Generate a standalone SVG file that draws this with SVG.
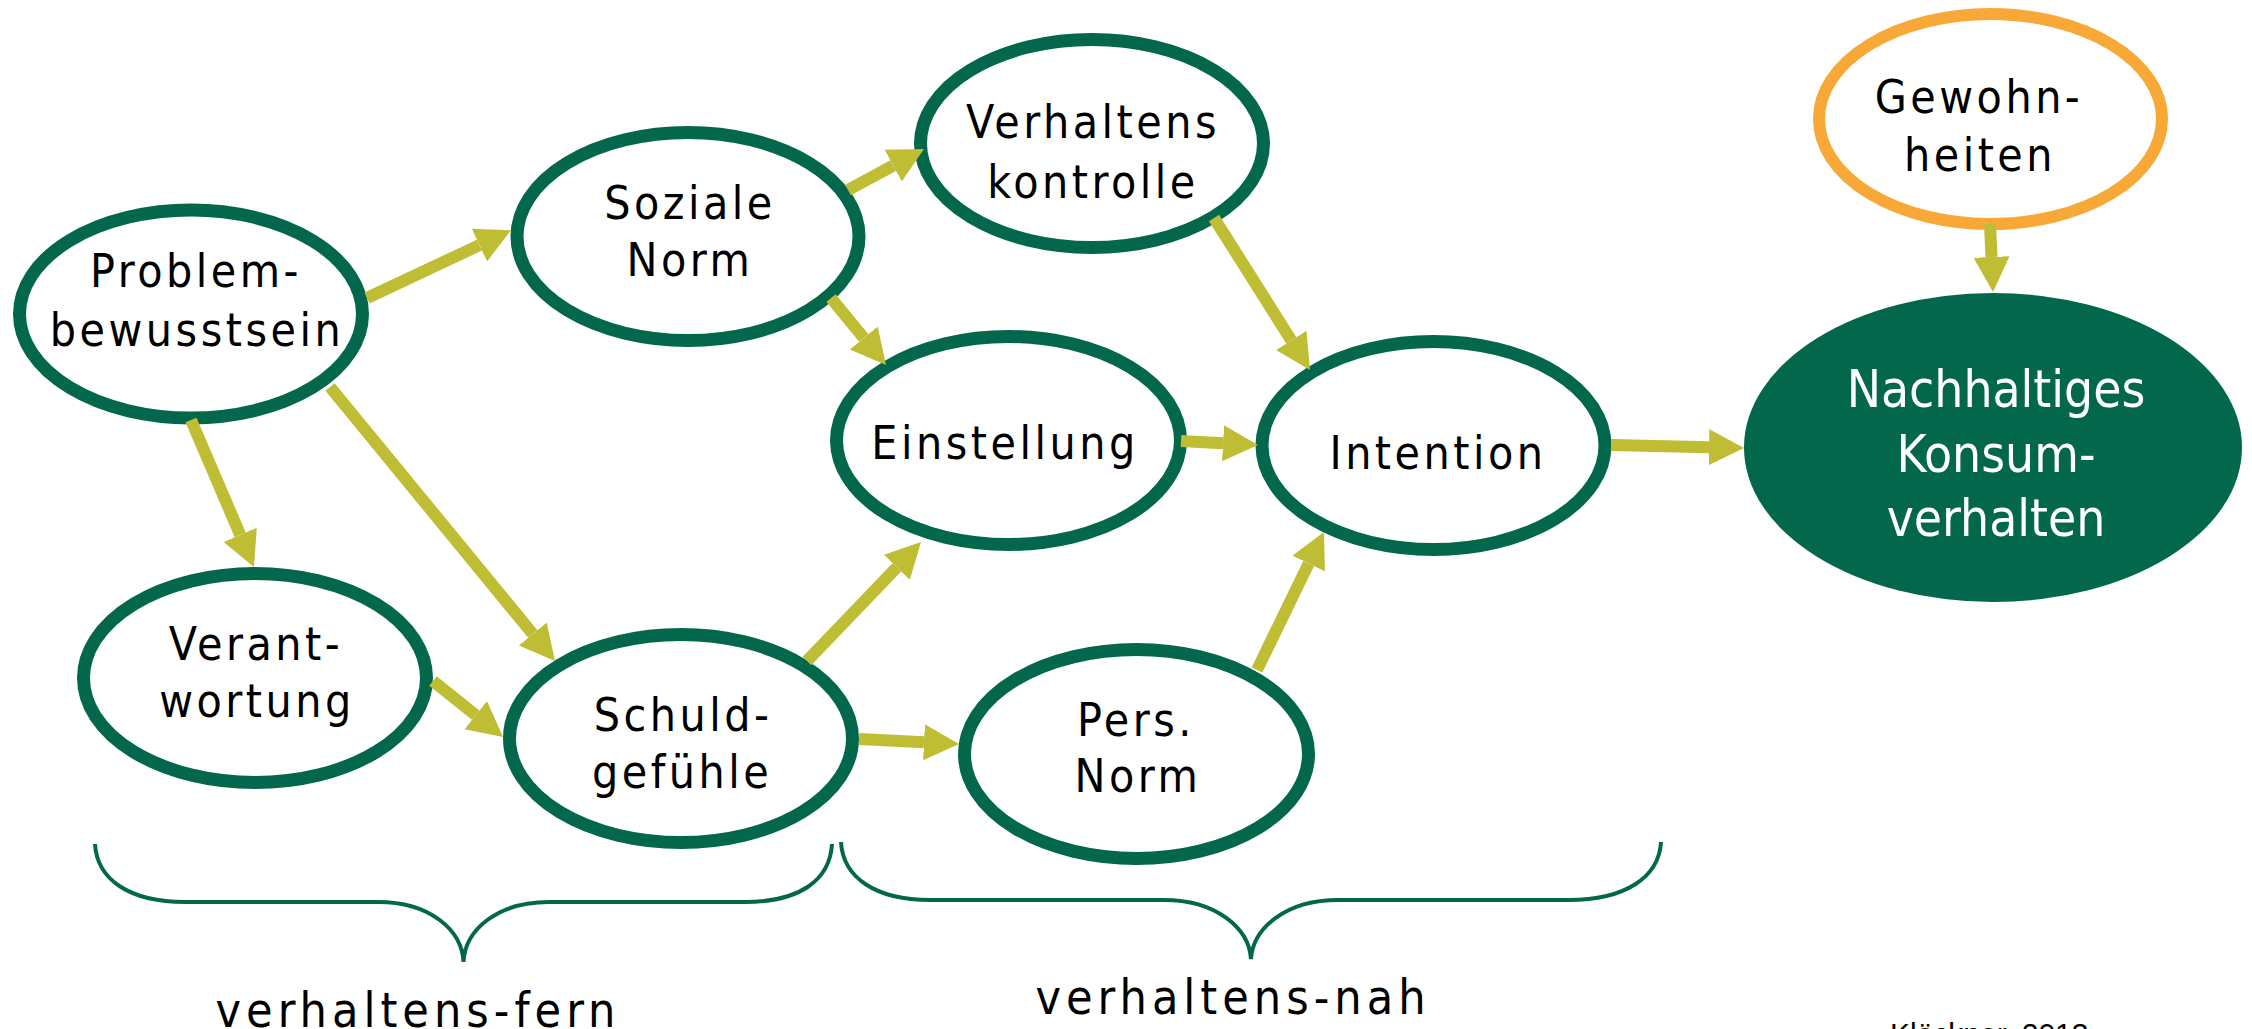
<svg xmlns="http://www.w3.org/2000/svg" width="2252" height="1029" viewBox="0 0 2252 1029">
<style>
.node{fill:#ffffff;stroke:#03684B;stroke-width:13}
.habit{fill:#ffffff;stroke:#F8A837;stroke-width:12}
.target{fill:#03684B;stroke:none}
.lbl{font-family:"DejaVu Sans Condensed","DejaVu Sans",sans-serif;font-stretch:condensed;font-size:46px;letter-spacing:3.5px;fill:#000000;text-anchor:middle}
.wlbl{font-family:"DejaVu Sans Condensed","DejaVu Sans",sans-serif;font-stretch:condensed;font-size:51px;fill:#ffffff;text-anchor:middle}
.cap{font-family:"DejaVu Sans Condensed","DejaVu Sans",sans-serif;font-stretch:condensed;font-size:48px;letter-spacing:5px;fill:#000000;text-anchor:middle}
.src{font-family:"Liberation Sans",Arial,sans-serif;font-size:30px;fill:#000000}
.arr{stroke:#BFBD33;stroke-width:12;fill:none;marker-end:url(#head)}
.brace{stroke:#03684B;stroke-width:4;fill:none}
</style>
<defs>
<marker id="head" markerUnits="userSpaceOnUse" markerWidth="40" markerHeight="40" refX="0" refY="18" orient="auto" viewBox="0 0 40 40">
<path d="M0,0 L35,18 L0,36 z" fill="#BFBD33"/>
</marker>
</defs>
<rect width="2252" height="1029" fill="#ffffff"/>
<g id="node-problem"><ellipse class="node" cx="191" cy="314" rx="171.5" ry="104"/><text class="lbl" x="196" y="287">Problem-</text><text class="lbl" x="197" y="346">bewusstsein</text></g>
<g id="node-soziale"><ellipse class="node" cx="688" cy="236.5" rx="171" ry="104"/><text class="lbl" x="690" y="219">Soziale</text><text class="lbl" x="690" y="276">Norm</text></g>
<g id="node-verhaltenskontrolle"><ellipse class="node" cx="1092" cy="143.5" rx="171.5" ry="104"/><text class="lbl" x="1093" y="138">Verhaltens</text><text class="lbl" x="1093" y="198">kontrolle</text></g>
<g id="node-einstellung"><ellipse class="node" cx="1008.5" cy="440.5" rx="172" ry="104"/><text class="lbl" x="1005" y="459">Einstellung</text></g>
<g id="node-intention"><ellipse class="node" cx="1433.5" cy="445.5" rx="171.5" ry="104"/><text class="lbl" x="1438" y="469">Intention</text></g>
<g id="node-verantwortung"><ellipse class="node" cx="255" cy="678" rx="171.5" ry="104.5"/><text class="lbl" x="256" y="660">Verant-</text><text class="lbl" x="257" y="717">wortung</text></g>
<g id="node-schuld"><ellipse class="node" cx="681" cy="738.5" rx="171.5" ry="104"/><text class="lbl" x="683" y="731">Schuld-</text><text class="lbl" x="682" y="788">gefühle</text></g>
<g id="node-persnorm"><ellipse class="node" cx="1136.5" cy="754" rx="172" ry="104.5"/><text class="lbl" x="1136" y="736">Pers.</text><text class="lbl" x="1138" y="792">Norm</text></g>
<g id="node-gewohnheiten"><ellipse class="habit" cx="1990.5" cy="119" rx="171.5" ry="105"/><text class="lbl" x="1979" y="113">Gewohn-</text><text class="lbl" x="1980" y="171">heiten</text></g>
<g id="node-konsum"><ellipse class="target" cx="1993" cy="447.5" rx="249" ry="154.5"/><text class="wlbl" x="1996" y="407">Nachhaltiges</text><text class="wlbl" x="1996" y="472">Konsum-</text><text class="wlbl" x="1996" y="536">verhalten</text></g>
<g id="connectors">
<path class="arr" d="M367,298 L479.4,245.1"/>
<path class="arr" d="M1181,441 L1223,443.2"/>
<path class="arr" d="M848,190 L893.2,165.6"/>
<path class="arr" d="M831,298 L863.8,338"/>
<path class="arr" d="M1214,218 L1291.3,340.4"/>
<path class="arr" d="M191,420 L240.2,534.8"/>
<path class="arr" d="M330,387 L532.8,634"/>
<path class="arr" d="M433,681 L475.7,715.1"/>
<path class="arr" d="M807,661 L896.8,567.3"/>
<path class="arr" d="M859,739 L924,742.2"/>
<path class="arr" d="M1257,670 L1308.7,563.5"/>
<path class="arr" d="M1611,445 L1709,447.2"/>
<path class="arr" d="M1990,224 L1991.5,257"/>
</g>
<g id="braces">
<path class="brace" d="M95,844 C97,880 130,902 185,902 L378,902 C430,902 462,930 463.5,962 C465,930 497,902 549,902 L745,902 C800,902 830,880 832,844"/>
<path class="brace" d="M841,842 C843,878 876,900 930,900 L1164,900 C1216,900 1249,928 1251,959 C1253,928 1286,900 1338,900 L1569,900 C1624,900 1659,878 1661,842"/>
</g>
<text class="cap" x="418" y="1027">verhaltens-fern</text>
<text class="cap" x="1233" y="1014">verhaltens-nah</text>
<text class="src" x="1890" y="1044">Klöckner, 2013</text>
</svg>
